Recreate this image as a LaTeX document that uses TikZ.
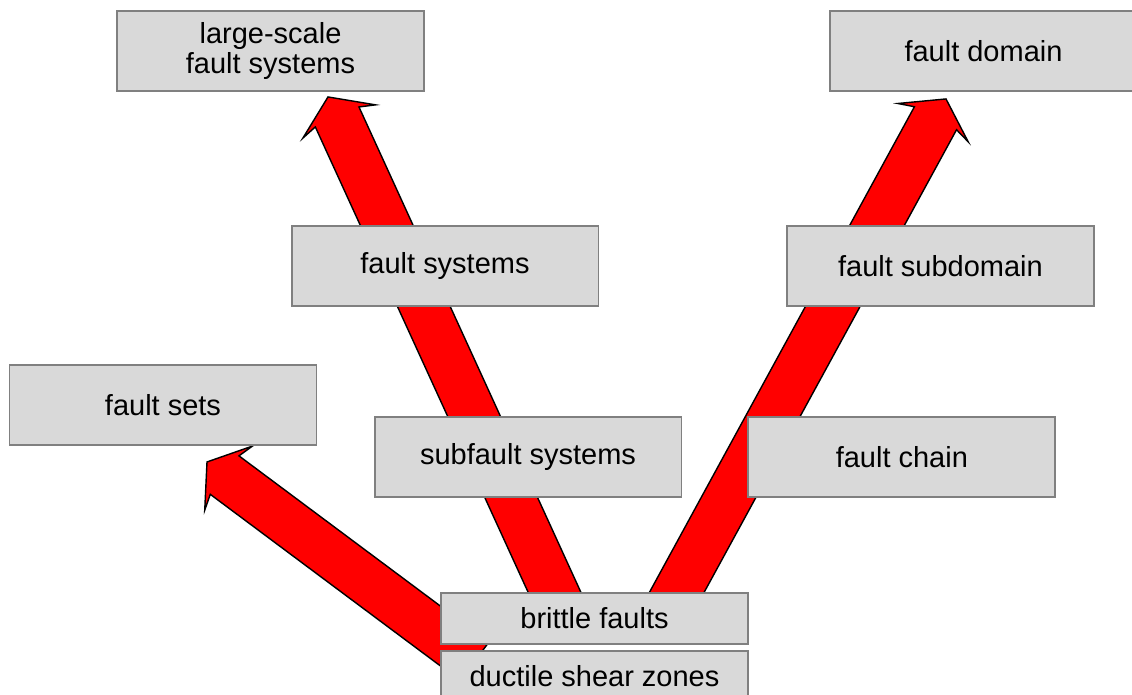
\documentclass[tikz,border=0pt]{standalone}
\usepackage{fontspec}
\setmainfont{Liberation Sans}
\usetikzlibrary{positioning, calc, backgrounds}
\definecolor{boxgray}{RGB}{217,217,217}
\definecolor{edgegray}{RGB}{128,128,128}

\begin{document}
\begin{tikzpicture}[
x=0.02cm, y=0.02cm,
level/.style={rectangle,
  draw=edgegray,
  line width=1.1pt,
  fill=boxgray,
  minimum width=6.14cm,
  minimum height=1.6cm,
  inner sep=0pt,
  align=center,
  font=\fontsize{16.5}{17}\selectfont
},
base/.style={level, minimum height=1.02cm},
bigarrow/.style={
  fill=red, draw=black, line width=0.8pt, line join=miter,
  to path={
    ($(\tikztostart)!0.48cm!90:(\tikztotarget)$)
    -- ($(\tikztotarget)!0.44cm!(\tikztostart)!0.48cm!-90:(\tikztostart)$)
    -- ($(\tikztotarget)!0.54cm!(\tikztostart)!0.8cm!-90:(\tikztostart)$)
    -- (\tikztotarget)
    -- ($(\tikztotarget)!0.54cm!(\tikztostart)!0.8cm!90:(\tikztostart)$)
    -- ($(\tikztotarget)!0.44cm!(\tikztostart)!0.48cm!90:(\tikztostart)$)
    -- ($(\tikztostart)!0.48cm!-90:(\tikztotarget)$)
    -- cycle}
}
]
\useasboundingbox (0,0) rectangle (1132,695);

\node[level] (large) at (270.5,644)
    {large-scale\\fault systems};
\node[level] (domain) at (983.5,644)
    {fault domain};
\node[level] (fsys) at (445,429)
    {fault systems};
\node[level] (subdom) at (940.5,429)
    {fault subdomain};
\node[level] (fsets) at (163,290)
    {fault sets};
\node[level] (subfsys) at (528,238)
    {subfault systems};
\node[level, right=1.3cm of subfsys] (chain)
    {fault chain};
\node[base] (brittle) at (594.5,76.5)
    {brittle faults};
\node[base, below=0.1cm of brittle] (ductile)
    {ductile shear zones};

\coordinate (largetip) at ($(large.south)+(57.5,-5)$);
\coordinate (domaintip) at ($(domain.south)+(-37.5,-7)$);
\coordinate (setstip) at ($(fsets.south)+(44,-16)$);
\coordinate (brittleleft) at ($(brittle)+(-28,0)$);
\coordinate (brittleright) at ($(brittle)+(68,0)$);
\coordinate (ductilefoot) at ($(ductile)+(-120,15)$);

\begin{scope}[on background layer]
\path[bigarrow] (brittleleft) to (largetip);
\path[bigarrow] (brittleright) to (domaintip);
\path[bigarrow] (ductilefoot) to (setstip);
\end{scope}
\end{tikzpicture}
\end{document}
